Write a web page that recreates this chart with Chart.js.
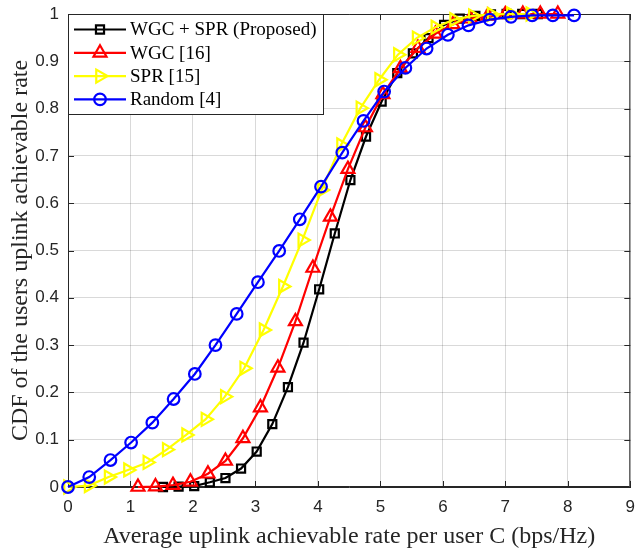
<!DOCTYPE html>
<html lang="en">
<head>
    <meta charset="UTF-8">
    <title>CDF of uplink achievable rate</title>
    <script src="https://cdn.jsdelivr.net/npm/chart.js"></script>
    <style>
        body { margin: 0; background: #fff; }
        #cdfChart { display: block; }
    </style>
</head>
<body>
    <canvas id="cdfChart" width="640" height="553"></canvas>
    <script>
        // values
        const rateProposed = [1.52, 1.77, 2.02, 2.27, 2.52, 2.77, 3.02, 3.27, 3.52, 3.77, 4.02, 4.27, 4.52, 4.77, 5.02, 5.27, 5.52, 5.77, 6.02, 6.27, 6.52, 6.77, 7.02, 7.27, 7.52];
        const cdfProposed = [0, 0.001, 0.002, 0.010, 0.019, 0.039, 0.075, 0.133, 0.211, 0.305, 0.418, 0.536, 0.649, 0.741, 0.815, 0.875, 0.917, 0.949, 0.977, 0.990, 0.996, 0.999, 1, 1, 1];

        const rateWgc = [1.12, 1.40, 1.68, 1.96, 2.24, 2.52, 2.80, 3.08, 3.36, 3.64, 3.92, 4.20, 4.48, 4.76, 5.04, 5.32, 5.60, 5.88, 6.16, 6.44, 6.72, 7.00, 7.28, 7.56, 7.84];
        const cdfWgc = [0, 0.001, 0.004, 0.011, 0.028, 0.055, 0.103, 0.168, 0.252, 0.350, 0.463, 0.571, 0.672, 0.760, 0.830, 0.885, 0.928, 0.958, 0.978, 0.990, 0.996, 0.999, 1, 1, 1];

        const rateSpr = [0, 0.33, 0.65, 0.96, 1.27, 1.58, 1.89, 2.20, 2.51, 2.82, 3.13, 3.44, 3.75, 4.06, 4.37, 4.68, 4.98, 5.28, 5.58, 5.88, 6.18, 6.48, 6.78, 7.09, 7.40];
        const cdfSpr = [0, 0.003, 0.021, 0.036, 0.052, 0.079, 0.110, 0.143, 0.191, 0.251, 0.332, 0.424, 0.522, 0.628, 0.723, 0.801, 0.861, 0.914, 0.949, 0.972, 0.988, 0.996, 0.999, 1, 1];

        const rateRandom = [0, 0.34, 0.68, 1.01, 1.35, 1.69, 2.03, 2.36, 2.70, 3.04, 3.38, 3.71, 4.05, 4.39, 4.73, 5.06, 5.40, 5.74, 6.08, 6.41, 6.75, 7.09, 7.43, 7.76, 8.10];
        const cdfRandom = [0, 0.021, 0.057, 0.094, 0.136, 0.186, 0.239, 0.300, 0.366, 0.433, 0.499, 0.566, 0.635, 0.707, 0.774, 0.836, 0.886, 0.927, 0.956, 0.976, 0.988, 0.994, 0.997, 0.997, 0.997];

        const seriesNames = ['WGC + SPR (Proposed)', 'WGC [16]', 'SPR [15]', 'Random [4]'];
        const xTicks = [0, 1, 2, 3, 4, 5, 6, 7, 8, 9];
        const yTicks = [0, 0.1, 0.2, 0.3, 0.4, 0.5, 0.6, 0.7, 0.8, 0.9, 1];
        const yTickLabels = ['0', '0.1', '0.2', '0.3', '0.4', '0.5', '0.6', '0.7', '0.8', '0.9', '1'];

        const axisColor = '#262626';

        function toPoints(xs, ys)
        {
            return xs.map((x, i) => ({ x: x, y: ys[i] }));
        }

        function makeSeries(label, xs, ys, color, style, radius, rotation, order)
        {
            return {
                label: label,
                data: toPoints(xs, ys),
                showLine: true,
                borderColor: color,
                borderWidth: 2.2,
                pointStyle: style,
                pointRadius: radius,
                pointRotation: rotation,
                pointBorderColor: color,
                pointBackgroundColor: 'rgba(0,0,0,0)',
                pointBorderWidth: 2.2,
                tension: 0,
                clip: false,
                order: order
            };
        }

        // box round the plot with inward ticks, like the matlab axes
        const axesBox =
        {
            id: 'axesBox',
            beforeDatasetsDraw(chart)
            {
                const { ctx, chartArea: a, scales } = chart;
                ctx.save();
                ctx.strokeStyle = axisColor;
                ctx.lineWidth = 1;
                ctx.beginPath();
                ctx.rect(a.left + 0.5, a.top + 0.5, a.right - a.left - 1, a.bottom - a.top - 1);
                const t = 6;
                scales.x.ticks.forEach(tk =>
                {
                    const px = Math.round(scales.x.getPixelForValue(tk.value)) + 0.5;
                    ctx.moveTo(px, a.bottom); ctx.lineTo(px, a.bottom - t);
                    ctx.moveTo(px, a.top); ctx.lineTo(px, a.top + t);
                });
                scales.y.ticks.forEach(tk =>
                {
                    const py = Math.round(scales.y.getPixelForValue(tk.value)) + 0.5;
                    ctx.moveTo(a.left, py); ctx.lineTo(a.left + t, py);
                    ctx.moveTo(a.right, py); ctx.lineTo(a.right - t, py);
                });
                ctx.stroke();
                ctx.restore();
            }
        };

        // legend drawn inside the plot, line sample with the marker in the middle
        const boxLegend =
        {
            id: 'boxLegend',
            afterDraw(chart)
            {
                const { ctx, chartArea: a } = chart;
                const left = a.left, top = a.top, w = 255, h = 100;
                ctx.save();
                ctx.fillStyle = '#fff';
                ctx.fillRect(left, top, w, h);
                ctx.strokeStyle = axisColor;
                ctx.lineWidth = 1;
                ctx.strokeRect(left + 0.5, top + 0.5, w, h);

                ctx.font = '19px "Liberation Serif", "Times New Roman", serif';
                ctx.textBaseline = 'middle';
                chart.data.datasets.forEach((ds, i) =>
                {
                    const y = top + 15.5 + i * 23.3;
                    ctx.strokeStyle = ds.borderColor;
                    ctx.lineWidth = 2.2;
                    ctx.beginPath();
                    ctx.moveTo(left + 6, y);
                    ctx.lineTo(left + 58, y);
                    ctx.stroke();
                    ctx.fillStyle = 'rgba(0,0,0,0)';
                    Chart.helpers.drawPoint(ctx, {
                        pointStyle: ds.pointStyle,
                        rotation: ds.pointRotation,
                        radius: ds.pointRadius,
                        borderWidth: 2.2
                    }, left + 32, y);
                    ctx.fillStyle = '#000';
                    ctx.fillText(ds.label, left + 62, y + 1);
                });
                ctx.restore();
            }
        };

        const tickFont = { family: '"Liberation Sans", Arial, sans-serif', size: 17 };
        const titleFont = { family: '"Liberation Serif", "Times New Roman", serif', size: 24 };

        new Chart(document.getElementById('cdfChart').getContext('2d'),
        {
            type: 'scatter',
            data:
            {
                datasets:
                [
                    makeSeries(seriesNames[0], rateProposed, cdfProposed, '#000000', 'rect', 5.7, 0, 4),
                    makeSeries(seriesNames[1], rateWgc, cdfWgc, '#ff0000', 'triangle', 7.5, 0, 3),
                    makeSeries(seriesNames[2], rateSpr, cdfSpr, '#ffff00', 'triangle', 7.5, 90, 2),
                    makeSeries(seriesNames[3], rateRandom, cdfRandom, '#0000ff', 'circle', 5.8, 0, 1)
                ]
            },
            options:
            {
                responsive: false,
                animation: false,
                layout: { padding: { left: 0, top: 14, right: 6, bottom: 0 } },
                plugins:
                {
                    legend: { display: false },
                    tooltip: { enabled: false }
                },
                scales:
                {
                    x:
                    {
                        type: 'linear',
                        min: 0,
                        max: 9,
                        afterBuildTicks: s => { s.ticks = xTicks.map(v => ({ value: v })); },
                        afterFit: s => { s.height = 66; s.paddingLeft = 0; s.paddingRight = 0; },
                        ticks: { font: tickFont, color: axisColor, padding: 10, maxRotation: 0 },
                        grid: { color: 'rgba(0,0,0,0.15)', drawTicks: false },
                        border: { color: axisColor },
                        title:
                        {
                            display: true,
                            text: 'Average uplink achievable rate per user C (bps/Hz)',
                            font: titleFont,
                            color: axisColor,
                            padding: { top: 0, bottom: 2 }
                        }
                    },
                    y:
                    {
                        type: 'linear',
                        min: 0,
                        max: 1,
                        afterBuildTicks: s => { s.ticks = yTicks.map(v => ({ value: v })); },
                        afterFit: s => { s.width = 68; s.paddingTop = 0; s.paddingBottom = 0; },
                        ticks:
                        {
                            font: tickFont,
                            color: axisColor,
                            padding: 9,
                            callback: (v) => yTickLabels[yTicks.indexOf(v)] ?? ''
                        },
                        grid: { color: 'rgba(0,0,0,0.15)', drawTicks: false },
                        border: { color: axisColor },
                        title:
                        {
                            display: true,
                            text: 'CDF of the users uplink achievable rate',
                            font: titleFont,
                            color: axisColor,
                            padding: { top: 6, bottom: 0 }
                        }
                    }
                }
            },
            plugins: [axesBox, boxLegend]
        });
    </script>
</body>
</html>
